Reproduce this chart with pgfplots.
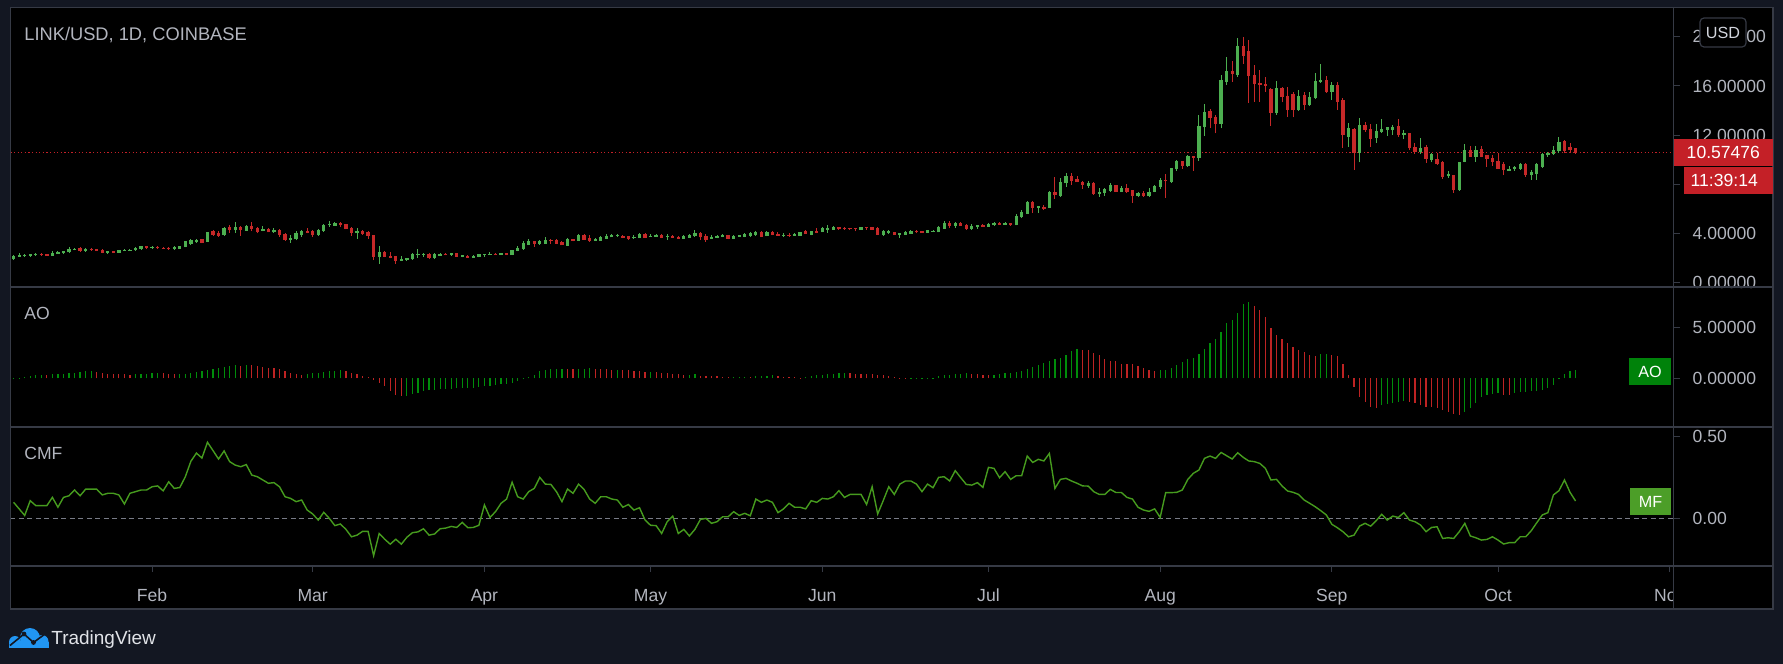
\documentclass[border=0pt]{standalone}
\usepackage{pgfplots}
\usepackage{pgfplotstable}
\pgfplotsset{compat=1.18}
\usepackage{fontspec}
\setmainfont{Liberation Sans}

\definecolor{tvbg}{RGB}{19,23,34}
\definecolor{tvline}{RGB}{54,58,69}
\definecolor{tvtext}{RGB}{178,181,190}
\definecolor{cgreen}{RGB}{76,175,80}
\definecolor{cred}{RGB}{198,40,40}
\definecolor{aogreen}{RGB}{0,140,10}
\definecolor{aored}{RGB}{190,35,35}
\definecolor{aobox}{RGB}{0,130,10}
\definecolor{cmfc}{RGB}{70,155,30}
\definecolor{mfbox}{RGB}{76,158,40}
\definecolor{pricered}{RGB}{196,32,39}
\definecolor{zerogray}{RGB}{120,123,134}
\definecolor{tvblue}{RGB}{33,150,243}
\definecolor{logotext}{RGB}{225,227,232}
\definecolor{usdtext}{RGB}{209,212,220}

% green candles: day open high low close
\pgfplotstableread{
d o h l c
6 1.91 2.21 1.83 2.16
7 2.10 2.40 2.08 2.27
8 2.16 2.32 2.10 2.24
9 2.19 2.35 2.10 2.32
10 2.27 2.40 2.19 2.32
13 2.19 2.57 2.16 2.43
14 2.38 2.57 2.35 2.51
15 2.40 2.57 2.29 2.57
16 2.48 2.86 2.40 2.73
17 2.67 2.78 2.62 2.78
19 2.59 2.81 2.51 2.75
23 2.43 2.57 2.35 2.57
25 2.43 2.67 2.40 2.65
26 2.59 2.70 2.57 2.65
27 2.59 2.73 2.57 2.70
28 2.65 2.89 2.59 2.84
29 2.73 3.00 2.65 2.97
31 2.84 3.00 2.75 2.92
35 2.75 2.97 2.67 2.92
36 2.78 3.00 2.75 2.97
37 2.89 3.40 2.86 3.38
38 3.14 3.54 3.05 3.49
39 3.30 3.52 3.22 3.52
41 3.35 4.14 3.30 4.11
44 3.87 4.52 3.81 4.49
46 4.28 4.93 4.06 4.55
48 4.25 4.68 4.20 4.63
51 4.22 4.60 4.17 4.36
53 4.11 4.44 4.03 4.30
56 3.46 3.84 3.24 3.65
57 3.54 4.17 3.43 4.03
58 3.92 4.28 3.73 4.19
61 3.87 4.36 3.79 4.33
62 4.22 4.79 4.14 4.71
63 4.71 5.01 4.55 4.79
64 4.66 4.95 4.63 4.90
68 4.03 4.44 3.57 4.22
72 2.08 2.97 1.53 2.48
76 1.78 2.16 1.75 1.94
77 1.83 2.02 1.78 2.00
78 1.91 2.43 1.86 2.38
79 2.27 2.70 2.00 2.32
80 2.27 2.43 2.10 2.38
82 2.00 2.43 1.91 2.35
83 2.21 2.40 2.19 2.38
85 2.24 2.43 2.19 2.40
87 2.13 2.27 2.05 2.21
89 2.02 2.24 2.00 2.21
90 2.08 2.34 2.05 2.32
91 2.24 2.30 2.10 2.29
92 2.29 2.48 2.24 2.35
94 2.24 2.42 2.22 2.40
96 2.24 2.67 2.22 2.65
97 2.57 2.97 2.54 2.86
98 2.73 3.38 2.65 3.24
99 3.11 3.54 3.05 3.41
101 3.16 3.49 3.08 3.43
102 3.19 3.70 3.14 3.46
106 3.03 3.65 2.97 3.57
108 3.43 3.92 3.41 3.87
111 3.38 3.62 3.36 3.60
112 3.43 3.79 3.38 3.73
113 3.60 3.95 3.52 3.81
114 3.70 3.95 3.70 3.90
115 3.81 3.98 3.73 3.89
118 3.62 3.84 3.54 3.73
119 3.62 4.03 3.60 4.00
121 3.73 3.98 3.73 3.84
122 3.73 3.98 3.70 3.92
124 3.73 3.92 3.49 3.84
127 3.57 3.87 3.54 3.81
128 3.68 3.98 3.62 3.92
129 3.79 4.28 3.73 4.06
132 3.57 3.84 3.54 3.76
133 3.65 3.90 3.60 3.84
134 3.73 3.98 3.70 3.92
136 3.60 3.90 3.54 3.81
137 3.73 3.90 3.70 3.87
138 3.76 4.06 3.68 4.00
139 3.84 4.08 3.70 4.06
140 3.92 4.22 3.79 4.14
142 3.79 4.22 3.76 4.17
145 3.81 4.00 3.70 3.92
147 3.81 4.00 3.81 3.95
148 3.79 4.13 3.77 4.11
150 3.92 4.19 3.84 4.19
152 4.11 4.55 4.08 4.47
153 4.33 4.71 4.06 4.47
154 4.33 4.60 4.28 4.55
159 4.33 4.52 4.28 4.52
163 3.87 4.25 3.81 4.19
164 4.06 4.25 3.95 4.19
166 3.89 4.03 3.62 4.03
167 3.89 4.19 3.87 4.14
168 4.00 4.30 3.95 4.22
171 4.06 4.30 4.03 4.28
172 4.14 4.30 4.13 4.25
173 4.11 4.57 4.09 4.55
174 4.41 5.01 4.36 4.87
176 4.66 4.93 4.47 4.90
179 4.38 4.74 4.28 4.66
180 4.52 4.70 4.36 4.68
182 4.55 4.81 4.53 4.79
183 4.68 4.95 4.63 4.90
185 4.71 4.93 4.68 4.90
187 4.68 5.58 4.66 5.42
188 5.33 5.88 5.25 5.74
189 5.63 6.64 5.58 6.56
191 6.12 6.26 5.69 6.18
193 6.09 7.45 6.05 7.37
195 7.10 8.51 6.99 8.18
196 8.10 8.92 7.80 8.67
200 7.89 8.27 7.72 8.13
202 7.21 7.70 6.99 7.42
203 7.32 7.70 7.07 7.61
204 7.45 8.10 7.37 7.97
206 7.37 7.86 7.35 7.70
209 7.04 7.40 6.94 7.29
211 7.04 7.67 6.96 7.42
212 7.37 7.94 7.34 7.86
213 7.78 8.48 7.64 8.35
215 8.24 9.34 8.10 9.32
216 9.24 9.98 9.11 9.92
218 9.51 10.36 9.43 10.30
220 10.17 13.64 9.92 12.74
221 12.66 14.54 11.96 13.88
224 12.91 16.90 12.55 16.49
225 16.36 18.39 16.08 17.25
227 16.90 19.94 16.76 19.26
234 13.83 16.41 13.64 15.87
238 14.05 15.68 13.99 15.21
240 14.45 15.54 14.37 15.13
241 15.05 17.09 14.94 16.41
242 16.33 17.77 16.27 16.49
244 15.54 16.36 14.86 16.08
247 11.88 12.96 11.06 12.58
249 10.60 13.37 9.79 12.83
252 11.80 12.91 11.39 12.34
253 12.28 13.31 12.20 12.50
254 12.47 12.69 11.93 12.69
255 12.42 12.83 12.01 12.69
257 12.01 12.42 11.66 12.20
260 10.65 11.74 10.46 10.93
262 10.03 10.52 9.79 10.52
265 8.67 9.05 8.54 8.84
267 7.53 9.84 7.45 9.84
268 9.84 11.28 9.79 10.79
270 10.25 11.14 9.84 10.79
276 9.11 9.50 9.10 9.30
277 9.24 9.49 9.08 9.43
278 9.30 9.70 9.16 9.65
280 8.75 9.16 8.35 9.03
281 8.89 9.76 8.35 9.65
282 9.43 10.52 9.35 10.46
283 10.38 10.65 10.25 10.57
284 10.52 11.14 10.38 10.84
285 10.74 11.88 10.57 11.47
}\gcandles

% red candles: day open high low close
\pgfplotstableread{
d o h l c
11 2.32 2.40 2.19 2.27
12 2.32 2.33 2.19 2.21
18 2.81 2.86 2.51 2.57
20 2.75 2.84 2.59 2.67
21 2.73 2.75 2.57 2.59
22 2.67 2.73 2.38 2.43
24 2.57 2.59 2.40 2.43
30 2.97 2.98 2.73 2.81
32 2.89 2.97 2.75 2.84
33 2.86 2.88 2.73 2.75
34 2.84 2.89 2.67 2.75
40 3.54 3.55 3.19 3.27
42 4.19 4.28 3.81 3.90
43 4.08 4.19 3.73 3.84
45 4.55 4.71 4.06 4.28
47 4.55 4.60 3.81 4.28
49 4.63 4.93 4.17 4.36
50 4.47 4.52 4.00 4.17
52 4.38 4.41 4.08 4.11
54 4.28 4.36 3.73 3.87
55 3.95 4.00 3.41 3.46
59 4.22 4.44 4.00 4.06
60 4.19 4.28 3.70 3.87
65 4.82 4.90 4.55 4.74
66 4.76 4.79 4.33 4.36
67 4.44 4.52 3.81 4.06
69 4.22 4.30 3.90 3.98
70 4.14 4.19 3.54 3.81
71 3.87 3.87 1.83 2.10
73 2.51 2.57 2.05 2.10
74 2.13 2.48 1.97 2.05
75 2.16 2.16 1.53 1.78
81 2.35 2.43 1.91 2.00
84 2.38 2.40 2.21 2.24
86 2.40 2.42 2.08 2.10
88 2.19 2.24 2.00 2.02
93 2.35 2.37 2.25 2.27
95 2.40 2.42 2.22 2.24
100 3.38 3.38 2.92 3.19
103 3.51 3.57 3.14 3.43
104 3.46 3.51 3.14 3.19
105 3.33 3.35 3.03 3.05
107 3.54 3.56 3.35 3.38
109 3.87 3.92 3.46 3.52
110 3.65 3.87 3.30 3.38
116 3.84 3.85 3.60 3.68
117 3.79 3.80 3.46 3.60
120 4.00 4.06 3.62 3.68
123 3.92 3.98 3.60 3.65
125 3.81 3.87 3.62 3.65
126 3.76 3.81 3.54 3.57
130 4.03 4.08 3.46 3.70
131 3.81 3.92 3.30 3.52
135 3.87 3.90 3.52 3.60
141 4.14 4.19 3.70 3.76
143 4.17 4.22 3.84 3.87
144 4.00 4.14 3.79 3.81
146 3.92 4.00 3.70 3.81
149 4.19 4.25 3.95 3.95
151 4.22 4.41 4.00 4.08
155 4.52 4.52 4.28 4.36
156 4.47 4.52 4.30 4.36
157 4.44 4.44 4.28 4.36
158 4.44 4.44 4.17 4.36
160 4.52 4.52 4.28 4.44
161 4.52 4.52 4.28 4.33
162 4.44 4.52 3.87 3.92
165 4.14 4.15 3.86 3.87
169 4.22 4.30 4.00 4.11
170 4.19 4.21 4.01 4.03
175 4.90 5.01 4.44 4.60
177 4.87 4.93 4.60 4.63
178 4.74 4.79 4.28 4.36
181 4.71 4.73 4.53 4.55
184 4.90 4.92 4.69 4.71
186 4.85 4.88 4.60 4.68
190 6.56 6.60 5.69 6.09
192 6.15 6.31 5.90 6.01
194 7.37 8.59 6.80 7.13
197 8.67 8.92 7.94 8.27
198 8.43 8.67 8.16 8.18
199 8.24 8.26 7.64 7.97
201 8.10 8.18 7.13 7.21
205 7.94 7.96 7.35 7.37
207 7.70 8.02 7.32 7.42
208 7.53 7.55 6.48 7.04
210 7.29 7.48 6.99 7.04
214 8.35 8.84 6.91 8.27
217 9.89 9.91 9.27 9.51
219 10.30 10.32 9.11 10.17
222 13.95 14.13 12.61 13.42
223 13.50 13.64 12.15 12.96
226 17.25 18.04 16.36 16.98
228 19.26 19.97 17.77 18.45
229 18.85 19.75 14.64 16.87
230 16.90 17.71 14.73 16.16
231 16.22 17.30 14.73 16.14
232 16.22 16.71 15.54 16.03
233 15.81 15.85 12.74 13.83
235 15.87 15.95 14.67 15.13
236 15.19 15.89 13.50 14.05
237 15.40 15.54 13.45 14.05
239 15.32 15.54 14.05 14.50
243 16.49 16.84 15.46 15.54
245 16.08 16.33 14.05 14.73
246 14.86 15.00 10.98 12.01
248 12.55 12.55 9.16 10.60
250 12.83 13.10 12.28 12.42
251 12.50 12.91 11.06 11.74
256 12.74 13.31 11.88 12.01
258 12.20 12.20 10.79 10.93
259 11.06 11.33 10.46 10.65
261 11.06 11.17 9.76 10.08
263 10.11 10.52 9.57 9.65
264 9.87 9.87 8.45 8.62
266 8.75 8.75 7.32 7.53
269 10.79 11.14 10.23 10.25
271 10.87 11.14 10.19 10.25
272 10.36 10.36 9.43 10.11
273 10.14 10.38 9.50 9.84
274 9.89 10.52 9.27 9.30
275 9.65 9.84 8.75 9.16
279 9.65 9.76 8.62 8.75
286 11.50 11.61 10.52 10.74
287 11.06 11.39 10.57 10.79
288 10.93 10.98 10.46 10.57
}\rcandles

% Awesome Oscillator, rising bars
\pgfplotstableread{
d v
6 0.08
7 0.08
8 0.11
9 0.21
10 0.28
11 0.34
13 0.41
14 0.44
15 0.47
16 0.51
17 0.57
18 0.64
19 0.67
20 0.70
28 0.41
29 0.44
30 0.47
31 0.51
32 0.54
36 0.44
37 0.47
38 0.51
39 0.60
40 0.74
41 0.83
42 0.93
43 1.00
44 1.09
45 1.23
46 1.26
48 1.32
59 0.41
60 0.51
61 0.57
62 0.64
63 0.70
64 0.74
65 0.77
77 -1.72
78 -1.55
79 -1.39
80 -1.26
81 -1.16
82 -1.13
83 -1.09
84 -1.03
85 -1.00
86 -0.96
87 -0.93
88 -0.92
89 -0.90
90 -0.87
91 -0.80
92 -0.74
93 -0.67
94 -0.60
95 -0.57
96 -0.47
97 -0.31
98 -0.08
99 0.11
100 0.34
101 0.67
102 0.83
103 0.90
104 0.93
105 0.96
108 0.93
109 0.96
110 1.00
115 0.86
121 0.66
128 0.37
129 0.40
136 0.11
137 0.14
138 0.17
140 0.18
141 0.25
142 0.27
143 0.31
149 0.15
150 0.25
151 0.28
152 0.31
153 0.38
154 0.44
155 0.54
156 0.57
168 -0.05
169 0.01
170 0.02
171 0.05
172 0.08
173 0.18
174 0.31
175 0.34
176 0.38
177 0.44
178 0.54
183 0.34
184 0.41
185 0.51
186 0.54
187 0.60
188 0.74
189 0.90
190 1.09
191 1.29
192 1.49
193 1.65
194 1.88
195 2.04
196 2.30
197 2.70
198 2.86
213 0.81
214 0.85
215 0.98
216 1.30
217 1.63
218 1.86
219 2.02
220 2.38
221 2.87
222 3.49
223 3.82
224 4.51
225 5.39
226 5.72
227 6.37
228 7.28
229 7.45
242 2.38
243 2.41
253 -2.62
254 -2.52
255 -2.39
256 -2.29
257 -2.19
268 -3.27
269 -2.94
270 -2.45
271 -1.86
272 -1.63
273 -1.53
274 -1.47
277 -1.47
278 -1.37
279 -1.31
280 -1.27
281 -1.21
282 -1.14
283 -0.98
284 -0.66
285 -0.10
286 0.39
287 0.75
288 0.78
}\aogreen

% Awesome Oscillator, falling bars
\pgfplotstableread{
d v
12 0.33
21 0.60
22 0.51
23 0.47
24 0.44
25 0.41
26 0.38
27 0.31
33 0.51
34 0.44
35 0.41
47 1.23
49 1.29
50 1.16
51 1.09
52 1.06
53 1.00
54 0.90
55 0.70
56 0.51
57 0.41
58 0.34
66 0.67
67 0.57
68 0.41
69 0.25
70 0.15
71 -0.15
72 -0.47
73 -0.80
74 -1.23
75 -1.62
76 -1.78
106 0.93
107 0.90
111 0.93
112 0.92
113 0.87
114 0.83
116 0.83
117 0.80
118 0.74
119 0.70
120 0.64
122 0.64
123 0.57
124 0.51
125 0.41
126 0.38
127 0.34
130 0.25
131 0.24
132 0.21
133 0.18
134 0.11
135 0.10
139 0.15
144 0.25
145 0.15
146 0.11
147 0.10
148 0.08
157 0.54
158 0.44
159 0.43
160 0.41
161 0.38
162 0.34
163 0.31
164 0.25
165 0.15
166 0.08
167 -0.08
179 0.44
180 0.38
181 0.31
182 0.28
199 2.79
200 2.76
201 2.53
202 2.24
203 1.91
204 1.72
205 1.65
206 1.45
207 1.42
208 1.39
209 1.16
210 1.00
211 0.83
212 0.74
230 7.12
231 6.69
232 5.98
233 4.90
234 4.25
235 3.85
236 3.43
237 3.10
238 2.77
239 2.61
240 2.28
241 2.19
244 2.28
245 2.19
246 1.40
247 0.32
248 -0.89
249 -1.79
250 -2.28
251 -2.78
252 -2.88
258 -2.29
259 -2.45
260 -2.62
261 -2.78
262 -2.85
263 -2.94
264 -3.11
265 -3.27
266 -3.53
267 -3.56
275 -1.63
276 -1.67
}\aored

% Chaikin Money Flow
\pgfplotstableread{
d v
6 0.10
7 0.06
8 0.02
9 0.11
10 0.08
11 0.08
12 0.08
13 0.13
14 0.07
15 0.13
16 0.14
17 0.175
18 0.14
19 0.18
20 0.18
21 0.18
22 0.145
23 0.155
24 0.155
25 0.145
26 0.09
27 0.155
28 0.165
29 0.175
30 0.175
31 0.195
32 0.20
33 0.17
34 0.225
35 0.185
36 0.19
37 0.256
38 0.35
39 0.40
40 0.37
41 0.466
42 0.415
43 0.364
44 0.413
45 0.348
46 0.327
47 0.317
48 0.33
49 0.266
50 0.256
51 0.236
52 0.216
53 0.22
54 0.195
55 0.134
56 0.124
57 0.104
58 0.114
59 0.053
60 0.029
61 -0.008
62 0.039
63 0.002
64 -0.042
65 -0.032
66 -0.065
67 -0.11
68 -0.10
69 -0.077
70 -0.077
71 -0.225
72 -0.09
73 -0.125
74 -0.155
75 -0.125
76 -0.155
77 -0.113
78 -0.085
79 -0.08
80 -0.061
81 -0.10
82 -0.093
83 -0.061
84 -0.057
85 -0.047
86 -0.053
87 -0.022
88 -0.055
89 -0.053
90 -0.04
91 0.084
92 0.008
93 0.043
94 0.094
95 0.12
96 0.222
97 0.134
98 0.12
99 0.165
100 0.185
101 0.252
102 0.211
103 0.209
104 0.165
105 0.104
106 0.181
107 0.155
108 0.211
109 0.178
110 0.12
111 0.094
112 0.134
113 0.134
114 0.12
115 0.114
116 0.07
117 0.087
118 0.053
119 0.067
120 -0.008
121 -0.04
122 -0.042
123 -0.09
124 -0.018
125 0.016
126 -0.09
127 -0.065
128 -0.105
129 -0.065
130 -0.004
131 0.002
132 -0.028
133 -0.018
134 0.012
135 0.012
136 0.043
137 0.02
138 0.033
139 0.018
140 0.12
141 0.10
142 0.114
143 0.10
144 0.037
145 0.06
146 0.094
147 0.07
148 0.07
149 0.06
150 0.11
151 0.10
152 0.124
153 0.12
154 0.134
155 0.171
156 0.13
157 0.148
158 0.148
159 0.148
160 0.087
161 0.195
162 0.029
163 0.11
164 0.195
165 0.148
166 0.211
167 0.23
168 0.23
169 0.211
170 0.165
171 0.211
172 0.189
173 0.252
174 0.256
175 0.23
176 0.293
177 0.25
178 0.209
179 0.205
180 0.22
181 0.191
182 0.313
183 0.307
184 0.25
185 0.287
186 0.24
187 0.262
188 0.262
189 0.382
190 0.343
191 0.362
192 0.352
193 0.398
194 0.185
195 0.24
196 0.246
197 0.23
198 0.216
199 0.20
200 0.199
201 0.165
202 0.148
203 0.148
204 0.179
205 0.16
206 0.16
207 0.13
208 0.12
209 0.07
210 0.053
211 0.045
212 0.06
213 0.008
214 0.159
215 0.159
216 0.161
217 0.175
218 0.24
219 0.277
220 0.297
221 0.368
222 0.382
223 0.368
224 0.404
225 0.384
226 0.364
227 0.402
228 0.374
229 0.352
230 0.348
231 0.337
232 0.307
233 0.236
234 0.24
235 0.20
236 0.169
237 0.161
238 0.148
239 0.114
240 0.094
241 0.073
242 0.049
243 0.023
244 -0.034
245 -0.055
246 -0.079
247 -0.11
248 -0.10
249 -0.045
250 -0.028
251 -0.045
252 -0.012
253 0.027
254 -0.008
255 0.016
256 0.008
257 0.037
258 -0.008
259 -0.018
260 -0.038
261 -0.079
262 -0.053
263 -0.049
264 -0.12
265 -0.116
266 -0.12
267 -0.079
268 -0.028
269 -0.105
270 -0.116
271 -0.13
272 -0.126
273 -0.11
274 -0.13
275 -0.154
276 -0.146
277 -0.146
278 -0.11
279 -0.11
280 -0.073
281 -0.024
282 0.023
283 0.037
284 0.145
285 0.171
286 0.236
287 0.161
288 0.108
}\cmfdata

\pgfplotsset{
  tvaxis/.style={
    scale only axis, width=166.33mm,
    xmin=5.4, xmax=305.7, enlargelimits=false,
    axis x line*=bottom, x axis line style={draw=none}, xtick=\empty,
    axis y line*=right, y axis line style={draw=none},
    tick align=outside, major tick length=0.6mm,
    y tick style={draw=tvline, line width=0.1mm},
    yticklabel style={anchor=west, inner sep=0pt, xshift=1.24mm, text=tvtext, font=\fontsize{5}{6}\selectfont},
    clip=true,
  },
  wick/.style={mark=none, forget plot, draw=#1, line width=0.1mm,
    quiver={u=0, v={\thisrow{h}-\thisrow{l}}}},
  body/.style={mark=none, forget plot, draw=#1, line width=0.33mm,
    quiver={u=0, v={max(abs(\thisrow{c}-\thisrow{o}),0.09)}}},
}

\begin{document}
\begin{tikzpicture}
\path[use as bounding box] (0,0) rectangle (178.3mm,66.4mm);
\fill[tvbg] (0,0) rectangle (178.3mm,66.4mm);
\fill[black] (1.03mm,5.51mm) rectangle (177.3mm,65.65mm);

% ---------- price pane ----------
\begin{axis}[tvaxis, at={(1.03mm,37.7mm)}, anchor=south west, height=27.95mm,
  ymin=-0.366, ymax=22.39,
  ytick={0,4,8,12,16,20},
  yticklabels={0.00000,4.00000,8.00000,12.00000,16.00000,20.00000}]
\addplot[pricered, line width=0.1mm, dash pattern=on 0.12mm off 0.24mm, forget plot] coordinates {(5.4,10.57476) (305.7,10.57476)};
\addplot[wick=cgreen] table[x=d, y=l] {\gcandles};
\addplot[wick=cred] table[x=d, y=l] {\rcandles};
\addplot[body=cgreen] table[x=d, y expr={min(\thisrow{o},\thisrow{c})-0.02}] {\gcandles};
\addplot[body=cred] table[x=d, y expr={min(\thisrow{o},\thisrow{c})-0.02}] {\rcandles};
\end{axis}

% ---------- AO pane ----------
\begin{axis}[tvaxis, at={(1.03mm,23.7mm)}, anchor=south west, height=14mm,
  ymin=-4.77, ymax=8.95,
  ytick={0,5}, yticklabels={0.00000,5.00000}]
\addplot[ycomb, draw=aogreen, line width=0.12mm, mark=none] table[x=d, y=v] {\aogreen};
\addplot[ycomb, draw=aored, line width=0.12mm, mark=none] table[x=d, y=v] {\aored};
\end{axis}

% ---------- CMF pane ----------
\begin{axis}[tvaxis, at={(1.03mm,9.8mm)}, anchor=south west, height=13.9mm,
  ymin=-0.288, ymax=0.559,
  ytick={0,0.5}, yticklabels={0.00,0.50},
  x tick style={draw=tvline, line width=0.1mm},
  xtick={31,60,91,121,152,182,213,244,274,305},
  xticklabels={Feb,Mar,Apr,May,Jun,Jul,Aug,Sep,Oct,Nov},
  xticklabel style={anchor=base, inner sep=0pt, yshift=-3.0mm, text=tvtext, font=\fontsize{5}{6}\selectfont}]
\addplot[zerogray, line width=0.1mm, dash pattern=on 0.5mm off 0.35mm] coordinates {(5.4,0) (305.7,0)};
\addplot[cmfc, line width=0.14mm, mark=none] table[x=d, y=v] {\cmfdata};
\end{axis}

% ---------- overlays in pixel units ----------
\begin{scope}[x=0.1mm, y=-0.1mm, shift={(0,66.4mm)}]
  \fill[black] (1674.3,567) rectangle (1772.5,608.5);
  \draw[tvline, line width=0.12mm] (10.3,287) -- (1773,287);
  \draw[tvline, line width=0.12mm] (10.3,427) -- (1773,427);
  \draw[tvline, line width=0.12mm] (10.3,566) -- (1773,566);
  \draw[tvline, line width=0.12mm] (1673.6,7.5) -- (1673.6,609);
  \draw[tvline, line width=0.15mm] (10.3,7.5) rectangle (1773,609);
  % USD box
  \filldraw[fill=black, draw=tvline, line width=0.12mm, rounded corners=0.4mm] (1700,18) rectangle (1746,47);
  \node[text=usdtext, inner sep=0pt, font=\fontsize{4.6}{5}\selectfont] at (1723,32.5) {USD};
  % last price and countdown
  \fill[pricered] (1673.6,139.3) rectangle (1772.5,165.7);
  \node[anchor=west, text=white, inner sep=0pt, font=\fontsize{5}{6}\selectfont] at (1686,152.5) {10.57476};
  \fill[pricered] (1684,167.3) rectangle (1772.5,193.7);
  \node[anchor=west, text=white, inner sep=0pt, font=\fontsize{5}{6}\selectfont] at (1690,180.5) {11:39:14};
  % indicator value boxes
  \fill[aobox] (1629,358) rectangle (1671,385);
  \node[text=white, inner sep=0pt, font=\fontsize{4.6}{5}\selectfont] at (1650,371.5) {AO};
  \fill[mfbox] (1630,488) rectangle (1671,515);
  \node[text=white, inner sep=0pt, font=\fontsize{4.6}{5}\selectfont] at (1650.5,501.5) {MF};
  % titles
  \node[anchor=base west, inner sep=0pt, text=tvtext, font=\fontsize{5.2}{6}\selectfont] at (23.7,40.5) {LINK/USD, 1D, COINBASE};
  \node[anchor=base west, inner sep=0pt, text=tvtext, font=\fontsize{5}{6}\selectfont] at (23.7,319.3) {AO};
  \node[anchor=base west, inner sep=0pt, text=tvtext, font=\fontsize{5}{6}\selectfont] at (23.7,459.3) {CMF};
  % TradingView logo
  \fill[tvblue] (30,638) circle (10);
  \fill[tvblue] (15,642) circle (6);
  \fill[tvblue] (42,641.5) circle (6.5);
  \fill[tvblue] (9,642) rectangle (48.5,648);
  \draw[tvbg, line width=0.16mm, line join=round] (10,645.5) -- (24,634) -- (33.5,642.5) -- (47,632.5);
  \fill[tvbg] (24,634) circle (2.4);
  \fill[tvbg] (33.5,642.5) circle (2.4);
  \node[anchor=base west, inner sep=0pt, text=logotext, font=\fontsize{5.4}{6}\selectfont] at (50.7,644.3) {TradingView};
\end{scope}
\end{tikzpicture}
\end{document}
